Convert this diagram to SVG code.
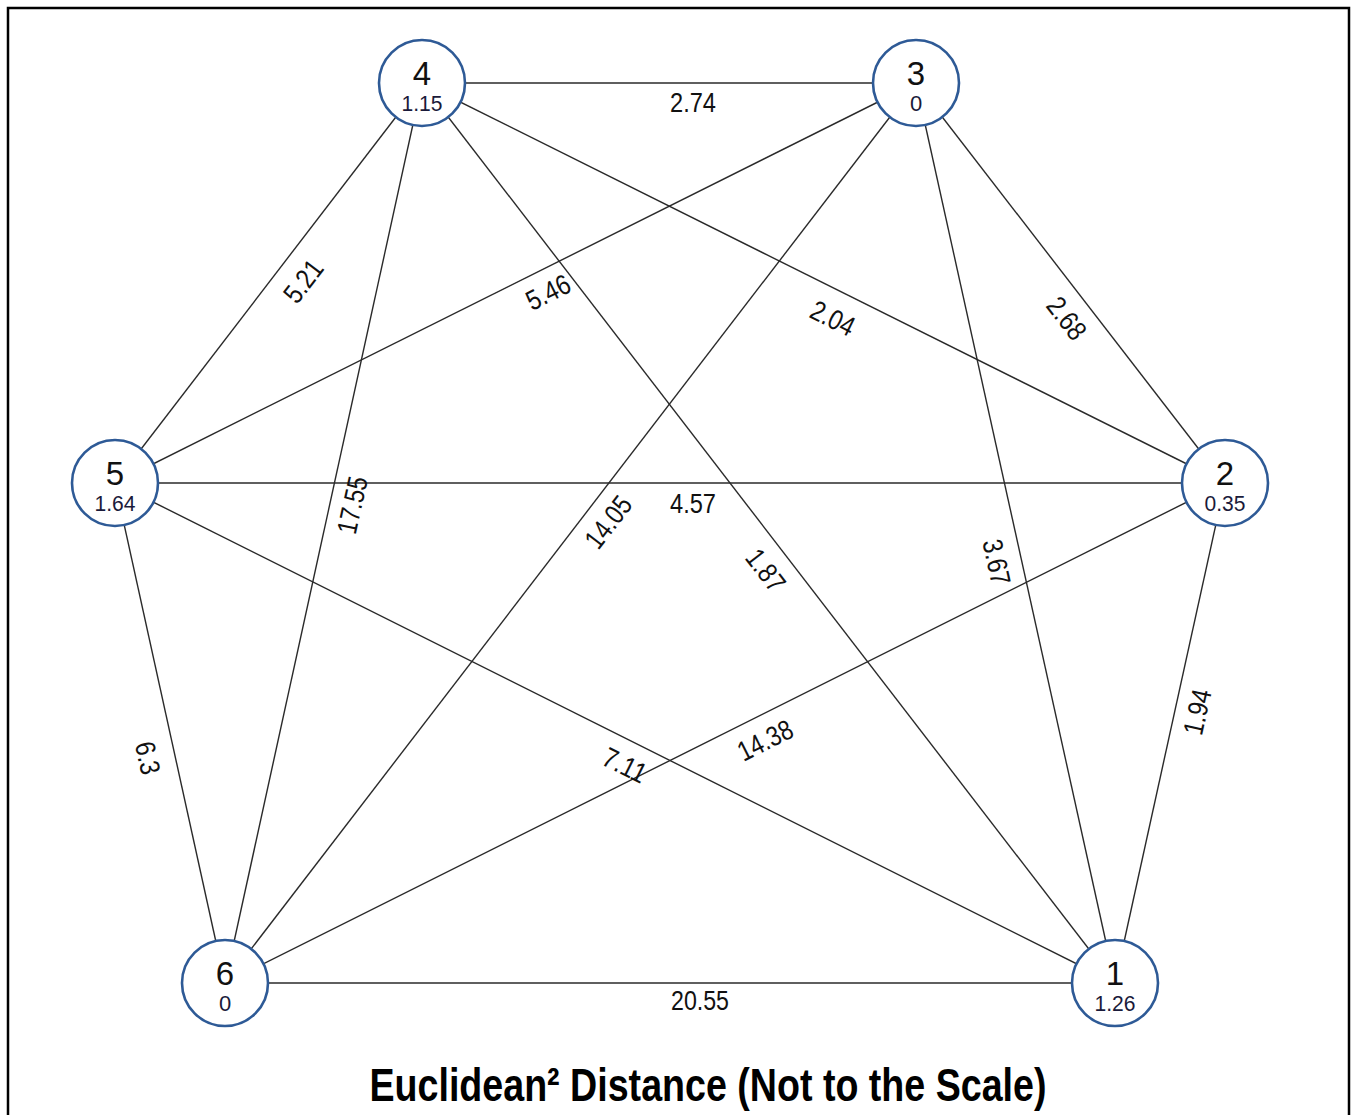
<svg xmlns="http://www.w3.org/2000/svg" width="1352" height="1115" viewBox="0 0 1352 1115">
<style>
.edge{stroke:#2a2a2a;stroke-width:1.4;fill:none}
.node{fill:#fff;stroke:#2e5a96;stroke-width:2.6}
.num{font-family:"Liberation Sans",Arial,sans-serif;font-size:33px;fill:#111;text-anchor:middle}
.val{font-family:"Liberation Sans",Arial,sans-serif;font-size:22px;fill:#1a1a3a;text-anchor:middle}
.lbl{font-family:"Liberation Sans",Arial,sans-serif;font-size:28px;fill:#111;text-anchor:middle}
.title{font-family:"Liberation Sans",Arial,sans-serif;font-size:46px;font-weight:bold;fill:#000;text-anchor:middle}
</style>
<rect x="0" y="0" width="1352" height="1115" fill="#fff"/>
<rect x="8" y="8" width="1341" height="1200" fill="none" stroke="#000" stroke-width="2.5"/>
<g id="connectors">
<line class="edge" x1="422" y1="83" x2="916" y2="83"/>
<line class="edge" x1="115" y1="483" x2="422" y2="83"/>
<line class="edge" x1="115" y1="483" x2="916" y2="83"/>
<line class="edge" x1="422" y1="83" x2="1225" y2="483"/>
<line class="edge" x1="916" y1="83" x2="1225" y2="483"/>
<line class="edge" x1="115" y1="483" x2="1225" y2="483"/>
<line class="edge" x1="225" y1="983" x2="422" y2="83"/>
<line class="edge" x1="225" y1="983" x2="916" y2="83"/>
<line class="edge" x1="422" y1="83" x2="1115" y2="983"/>
<line class="edge" x1="916" y1="83" x2="1115" y2="983"/>
<line class="edge" x1="1115" y1="983" x2="1225" y2="483"/>
<line class="edge" x1="115" y1="483" x2="225" y2="983"/>
<line class="edge" x1="115" y1="483" x2="1115" y2="983"/>
<line class="edge" x1="225" y1="983" x2="1225" y2="483"/>
<line class="edge" x1="225" y1="983" x2="1115" y2="983"/>
<g id="edge-labels">
<text class="lbl" transform="translate(693,102)" y="10" textLength="46" lengthAdjust="spacingAndGlyphs">2.74</text>
<text class="lbl" transform="translate(303,281) rotate(-52.5)" y="10" textLength="46" lengthAdjust="spacingAndGlyphs">5.21</text>
<text class="lbl" transform="translate(548,292) rotate(-26.5)" y="10" textLength="46" lengthAdjust="spacingAndGlyphs">5.46</text>
<text class="lbl" transform="translate(833,318) rotate(26.5)" y="10" textLength="46" lengthAdjust="spacingAndGlyphs">2.04</text>
<text class="lbl" transform="translate(1067,318) rotate(52.3)" y="10" textLength="46" lengthAdjust="spacingAndGlyphs">2.68</text>
<text class="lbl" transform="translate(693,503)" y="10" textLength="46" lengthAdjust="spacingAndGlyphs">4.57</text>
<text class="lbl" transform="translate(352,505) rotate(-77.7)" y="10" textLength="58" lengthAdjust="spacingAndGlyphs">17.55</text>
<text class="lbl" transform="translate(608,522) rotate(-52.5)" y="10" textLength="58" lengthAdjust="spacingAndGlyphs">14.05</text>
<text class="lbl" transform="translate(766,570) rotate(52.4)" y="10" textLength="46" lengthAdjust="spacingAndGlyphs">1.87</text>
<text class="lbl" transform="translate(997,562) rotate(77.5)" y="10" textLength="46" lengthAdjust="spacingAndGlyphs">3.67</text>
<text class="lbl" transform="translate(1197,712) rotate(-77.6)" y="10" textLength="46" lengthAdjust="spacingAndGlyphs">1.94</text>
<text class="lbl" transform="translate(148,758) rotate(77.6)" y="10" textLength="33" lengthAdjust="spacingAndGlyphs">6.3</text>
<text class="lbl" transform="translate(625,765) rotate(26.6)" y="10" textLength="46" lengthAdjust="spacingAndGlyphs">7.11</text>
<text class="lbl" transform="translate(765,740) rotate(-26.6)" y="10" textLength="58" lengthAdjust="spacingAndGlyphs">14.38</text>
<text class="lbl" transform="translate(700,1000)" y="10" textLength="58" lengthAdjust="spacingAndGlyphs">20.55</text>
</g>
</g>
<g id="node-4"><circle class="node" cx="422" cy="83" r="43"/><text class="num" x="422" y="85">4</text><text class="val" x="422" y="111" textLength="41" lengthAdjust="spacingAndGlyphs">1.15</text></g>
<g id="node-3"><circle class="node" cx="916" cy="83" r="43"/><text class="num" x="916" y="85">3</text><text class="val" x="916" y="111">0</text></g>
<g id="node-5"><circle class="node" cx="115" cy="483" r="43"/><text class="num" x="115" y="485">5</text><text class="val" x="115" y="511" textLength="41" lengthAdjust="spacingAndGlyphs">1.64</text></g>
<g id="node-2"><circle class="node" cx="1225" cy="483" r="43"/><text class="num" x="1225" y="485">2</text><text class="val" x="1225" y="511" textLength="41" lengthAdjust="spacingAndGlyphs">0.35</text></g>
<g id="node-6"><circle class="node" cx="225" cy="983" r="43"/><text class="num" x="225" y="985">6</text><text class="val" x="225" y="1011">0</text></g>
<g id="node-1"><circle class="node" cx="1115" cy="983" r="43"/><text class="num" x="1115" y="985">1</text><text class="val" x="1115" y="1011" textLength="41" lengthAdjust="spacingAndGlyphs">1.26</text></g>
<text class="title" x="708" y="1101" textLength="677" lengthAdjust="spacingAndGlyphs">Euclidean² Distance (Not to the Scale)</text>
</svg>
